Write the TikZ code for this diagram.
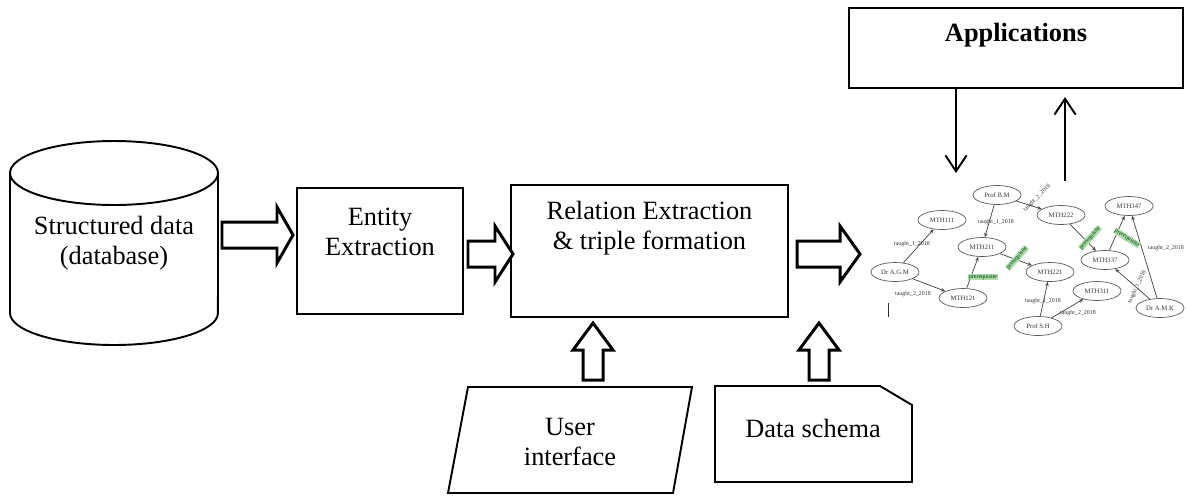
\documentclass[tikz,border=0pt]{standalone}
\usepackage{fontspec}
\setmainfont{Liberation Serif}
\usetikzlibrary{arrows.meta,shapes.geometric}

\tikzset{
  procbox/.style={draw, line width=1.1pt, rectangle, inner sep=0pt},
  blockarrow/.style={draw, line width=1.7pt, line join=miter, fill=white},
  bigtext/.style={font=\fontsize{15}{17}\selectfont, align=center, inner sep=0pt},
  gnode/.style={draw=gray!70!black, line width=0.4pt, ellipse, minimum width=0.96cm,
    minimum height=0.38cm, inner sep=0pt, font=\fontsize{3.8}{4.5}\selectfont, text=black!80},
  gedge/.style={draw=gray!50!black, line width=0.4pt, -{Stealth[length=2.5pt,width=2pt]}},
  glabel/.style={font=\fontsize{3.4}{4}\selectfont, text=black!80, inner sep=0.3pt},
  prereq/.style={glabel, fill=green!45!gray!45, text=green!20!black},
  apparrow/.style={line width=1.1pt, -{Straight Barb[length=9pt,width=12pt]}}
}

\begin{document}
\begin{tikzpicture}[x=0.02cm, y=-0.02cm]
  \useasboundingbox (0,0) rectangle (1190,495);

  % database cylinder
  \draw[line width=1.1pt] (10,173) -- (10,313)
    arc[start angle=180, end angle=360, x radius=2.08cm, y radius=0.64cm] -- (218,173);
  \draw[line width=1.1pt] (114,173) ellipse [x radius=2.08cm, y radius=0.64cm];
  \node[bigtext] (db) at (114,243) {Structured data\\(database)};

  % process boxes
  \node[procbox, minimum width=3.32cm, minimum height=2.52cm] (ent) at (380,251) {};
  \node[bigtext] (entlab) at (380,232) {Entity\\Extraction};
  \node[procbox, minimum width=5.54cm, minimum height=2.64cm] (rel) at (649.5,251) {};
  \node[bigtext] (rellab) at (649.5,228) {Relation Extraction\\\& triple formation};
  \node[procbox, minimum width=6.68cm, minimum height=1.6cm] (app) at (1016,48) {};
  \node[bigtext, font=\fontsize{15}{17}\selectfont\bfseries] (applab) at (1016,35) {Applications};

  % inputs
  \draw[line width=1.1pt] (468,387) -- (692,387) -- (673,493) -- (448,493) -- cycle;
  \node[bigtext] (ui) at (570,442) {User\\interface};
  \draw[line width=1.1pt] (715,386) -- (880,386) -- (912,405) -- (912,482) -- (715,482) -- cycle;
  \node[bigtext] (ds) at (813,428) {Data schema};

  % block arrows
  \draw[blockarrow] (222,222) -- (277,222) -- (277,207) -- (293,235) -- (277,263) -- (277,248) -- (222,248) -- cycle;
  \draw[blockarrow] (468,241) -- (495,241) -- (495,226) -- (513,254) -- (495,282) -- (495,267) -- (468,267) -- cycle;
  \draw[blockarrow] (797,241) -- (840,241) -- (840,226) -- (860,254) -- (840,282) -- (840,267) -- (797,267) -- cycle;
  \draw[blockarrow] (583,380) -- (583,350) -- (573,350) -- (593,323) -- (613,350) -- (603,350) -- (603,380) -- cycle;
  \draw[blockarrow] (809,380) -- (809,350) -- (799,350) -- (819,323) -- (839,350) -- (829,350) -- (829,380) -- cycle;

  % applications arrows
  \coordinate (downend) at (956,173);
  \coordinate (upstart) at (1065,181);
  \coordinate (uptip) at (1065,97);
  \draw[apparrow] (app.south -| downend) -- (downend);
  \draw[apparrow] (upstart) -- (uptip);

  % knowledge graph
  \node[gnode] (bm) at (997,195) {Prof B.M};
  \node[gnode] (m111) at (942,220) {MTH111};
  \node[gnode] (m211) at (982,247) {MTH211};
  \node[gnode] (m222) at (1061,215) {MTH222};
  \node[gnode] (m347) at (1129,206) {MTH347};
  \node[gnode] (m337) at (1105,260) {MTH337};
  \node[gnode] (agm) at (895,272) {Dr A.G.M};
  \node[gnode] (m221) at (1050,272) {MTH221};
  \node[gnode] (m121) at (963,298) {MTH121};
  \node[gnode] (m311) at (1097,291) {MTH311};
  \node[gnode] (sh) at (1038,326) {Prof S.H};
  \node[gnode] (amk) at (1160,308) {Dr A.M.K};

  \draw[gedge] (agm) -- (m111);
  \draw[gedge] (agm) -- (m121);
  \draw[gedge] (m121) -- (m211);
  \draw[gedge] (bm) -- (m211);
  \draw[gedge] (bm) -- (m222);
  \draw[gedge] (m211) -- (m221);
  \draw[gedge] (m222) -- (m337);
  \draw[gedge] (m337) -- (m347);
  \draw[gedge] (amk) -- (m337);
  \draw[gedge] (amk) -- (m347);
  \draw[gedge] (sh) -- (m221);
  \draw[gedge] (sh) -- (m311);

  \node[glabel] (l1) at (912,244) {taught\_1\_2018};
  \node[glabel] (l2) at (913,294) {taught\_2\_2018};
  \node[prereq] (l3) at (983,277) {prerequisite};
  \node[glabel] (l4) at (996,222) {taught\_1\_2018};
  \node[glabel, rotate=45] (l5) at (1037,198) {taught\_2\_2018};
  \node[prereq, rotate=48] (l6) at (1017,258) {prerequisite};
  \node[prereq, rotate=48] (l7) at (1090,238) {prerequisite};
  \node[prereq, rotate=-33] (l8) at (1127,238) {prerequisite};
  \node[glabel, rotate=65] (l9) at (1137,287) {taught\_1\_2018};
  \node[glabel] (l10) at (1166,248) {taught\_2\_2018};
  \node[glabel] (l11) at (1043,301) {taught\_1\_2018};
  \node[glabel] (l12) at (1078,313) {taught\_2\_2018};

  \draw[gray!40!black, line width=0.5pt] (888,303) -- (888,317);
\end{tikzpicture}
\end{document}
